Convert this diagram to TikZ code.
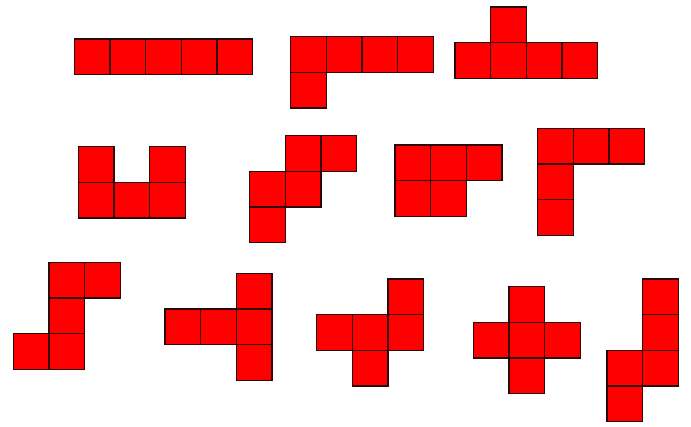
\documentclass[tikz,border=0pt]{standalone}
\definecolor{cellred}{RGB}{255,0,0}
\definecolor{celledge}{RGB}{45,8,8}
\tikzset{cellbox/.style={fill=cellred,draw=celledge,line width=1.3pt,line join=miter}}
\newcommand\mypiece[3]{\foreach \i/\j in {#3} \draw[cellbox] ({#1+\i*35.7},{#2+\j*35.7}) rectangle ++(35.7,35.7);}
\begin{document}
\begin{tikzpicture}[x=1pt,y=-1pt]
\fill[white] (0,0) rectangle (691,427);
\useasboundingbox (0,0) rectangle (691,427);
% I
\mypiece{74.3}{39}{0/0,1/0,2/0,3/0,4/0}
% L
\mypiece{290.7}{36.7}{0/0,1/0,2/0,3/0,0/1}
% Y
\mypiece{455}{6.9}{1/0,0/1,1/1,2/1,3/1}
% U
\mypiece{78.3}{146.7}{0/0,2/0,0/1,1/1,2/1}
% W
\mypiece{249.5}{135.7}{1/0,2/0,0/1,1/1,0/2}
% P
\mypiece{395}{145}{0/0,1/0,2/0,0/1,1/1}
% V
\mypiece{537.7}{128.3}{0/0,1/0,2/0,0/1,0/2}
% Z
\mypiece{13.3}{262.3}{1/0,2/0,1/1,0/2,1/2}
% T
\mypiece{165}{273.3}{2/0,0/1,1/1,2/1,2/2}
% F
\mypiece{316.7}{279}{2/0,0/1,1/1,2/1,1/2}
% X
\mypiece{473.3}{286.7}{1/0,0/1,1/1,2/1,1/2}
% N
\mypiece{607}{279}{1/0,1/1,0/2,1/2,0/3}
\end{tikzpicture}
\end{document}
